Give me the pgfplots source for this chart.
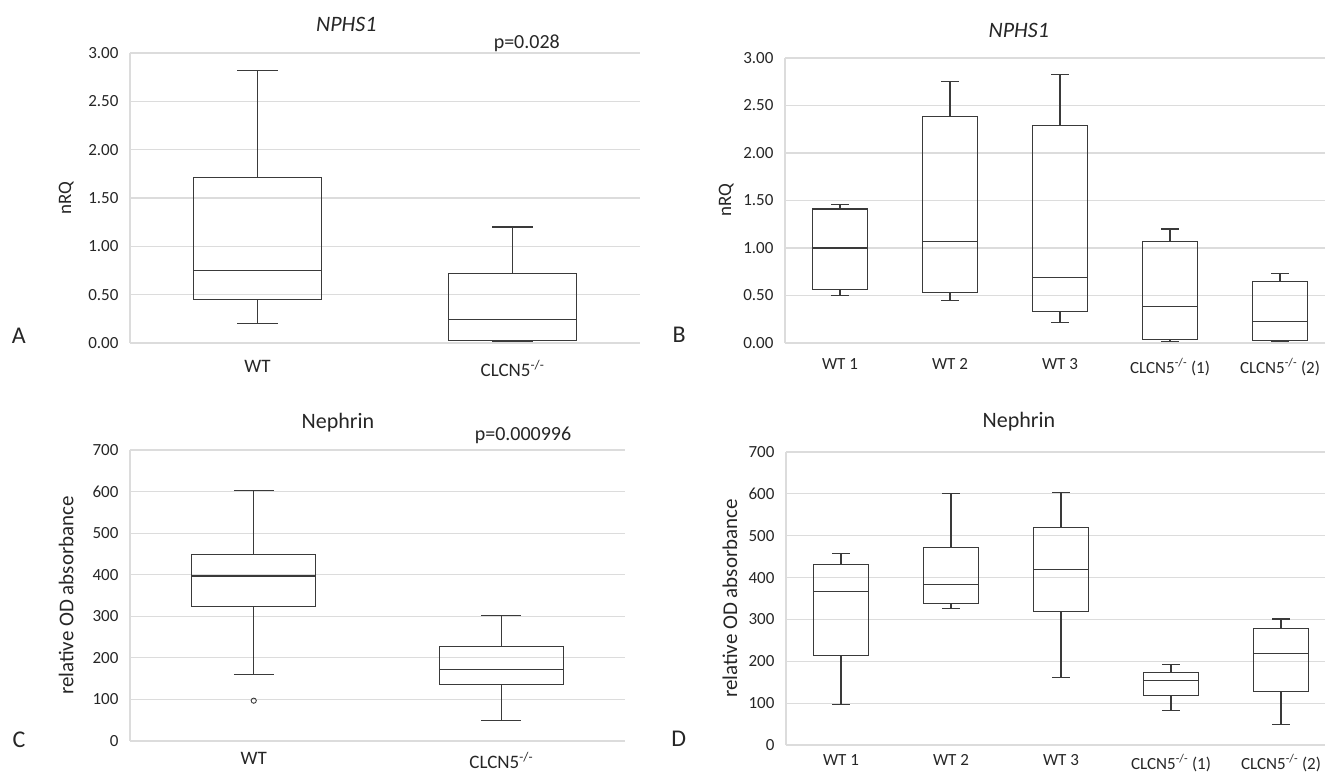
\documentclass[border=0pt]{standalone}
\usepackage{fontspec}
\setmainfont{Carlito}
\usepackage{pgfplots}
\pgfplotsset{compat=1.18}
\usepgfplotslibrary{statistics}

\definecolor{gridc}{HTML}{DCDCDC}
\definecolor{boxc}{HTML}{3A3A3A}
\definecolor{txtc}{HTML}{262626}

\pgfplotsset{
  panel/.style={
    scale only axis,
    anchor=south west,
    axis lines=left,
    axis line style={draw=gridc, line width=1.2pt, -},
    ymajorgrids,
    grid style={draw=gridc, line width=1.2pt},
    major tick length=0pt,
    xmin=0.5, ymin=0,
    clip=false,
    /pgf/number format/assume math mode=true,
    tick label style={text=txtc},
    yticklabel style={font=\fontsize{17}{20}\selectfont, xshift=-8pt},
    ylabel style={text=txtc},
    boxplot/draw direction=y,
    boxplot/box extend=0.5,
    boxplot/whisker extend=0.16,
  },
  bx/.style={draw=boxc, line width=1.1pt, mark=o, mark size=2.6pt,
    mark options={draw=boxc, line width=0.9pt}},
  nrq/.style={
    ymax=3, ytick distance=0.5,
    yticklabel style={/pgf/number format/.cd, fixed, fixed zerofill, precision=2},
    ylabel={nRQ},
    ylabel style={font=\fontsize{19}{22}\selectfont},
  },
  od/.style={
    ymax=700, ytick distance=100,
    ylabel={relative OD absorbance},
    ylabel style={font=\fontsize{21}{25}\selectfont},
  },
}

\begin{document}
\begin{tikzpicture}
\path[use as bounding box] (0pt,0pt) rectangle (1325pt,771pt);

% A
\begin{axis}[panel, nrq, at={(130pt,428pt)}, width=510pt, height=290pt, xmax=2.5,
  xtick={1,2}, xticklabels={WT, CLCN5\textsuperscript{-/-}},
  xticklabel style={font=\fontsize{19}{22}\selectfont, yshift=-14pt},
  ylabel style={at={(axis description cs:-0.125,0.5)}, anchor=center}]
\addplot[bx, boxplot prepared={draw position=1, lower whisker=0.20,
  lower quartile=0.453, median=0.753, upper quartile=1.709, upper whisker=2.818}] coordinates {};
\addplot[bx, boxplot prepared={draw position=2, lower whisker=0.012,
  lower quartile=0.028, median=0.244, upper quartile=0.715, upper whisker=1.20}] coordinates {};
\node[font=\fontsize{22}{26}\selectfont\itshape, text=txtc] at (rel axis cs:0.424,1.097) {NPHS1};
\node[font=\fontsize{20}{24}\selectfont, text=txtc] at (rel axis cs:0.778,1.034) {p=0.028};
\node[font=\fontsize{24}{28}\selectfont, text=txtc] at (rel axis cs:-0.218,0.024) {A};
\end{axis}

% B
\begin{axis}[panel, nrq, at={(785pt,428pt)}, width=540pt, height=285pt, xmax=5.409,
  xtick={1,...,5},
  xticklabels={WT 1, WT 2, WT 3, CLCN5\textsuperscript{-/-} (1), CLCN5\textsuperscript{-/-} (2)},
  xticklabel style={font=\fontsize{17}{20}\selectfont, yshift=-12pt},
  ylabel style={at={(axis description cs:-0.109,0.5)}, anchor=center}]
\addplot[bx, boxplot prepared={draw position=1, lower whisker=0.496,
  lower quartile=0.563, median=1.00, upper quartile=1.41, upper whisker=1.46}] coordinates {};
\addplot[bx, boxplot prepared={draw position=2, lower whisker=0.443,
  lower quartile=0.531, median=1.066, upper quartile=2.387, upper whisker=2.748}] coordinates {};
\addplot[bx, boxplot prepared={draw position=3, lower whisker=0.212,
  lower quartile=0.329, median=0.687, upper quartile=2.288, upper whisker=2.822}] coordinates {};
\addplot[bx, boxplot prepared={draw position=4, lower whisker=0.02,
  lower quartile=0.039, median=0.386, upper quartile=1.069, upper whisker=1.20}] coordinates {};
\addplot[bx, boxplot prepared={draw position=5, lower whisker=0.014,
  lower quartile=0.028, median=0.23, upper quartile=0.648, upper whisker=0.733}] coordinates {};
\node[font=\fontsize{22}{26}\selectfont\itshape, text=txtc] at (rel axis cs:0.433,1.098) {NPHS1};
\node[font=\fontsize{24}{28}\selectfont, text=txtc] at (rel axis cs:-0.196,0.028) {B};
\end{axis}

% C
\begin{axis}[panel, od, at={(130pt,30pt)}, width=495pt, height=291pt, xmax=2.5,
  xtick={1,2}, xticklabels={WT, CLCN5\textsuperscript{-/-}},
  xticklabel style={font=\fontsize{19}{22}\selectfont, yshift=-8pt},
  ylabel style={at={(axis description cs:-0.129,0.5)}, anchor=center}]
\addplot[bx, boxplot prepared={draw position=1, lower whisker=160,
  lower quartile=324, median=397, upper quartile=449, upper whisker=603}]
  table[row sep=\\, y index=0] {data\\ 97\\};
\addplot[bx, boxplot prepared={draw position=2, lower whisker=49,
  lower quartile=135, median=173, upper quartile=227, upper whisker=301}] coordinates {};
\node[font=\fontsize{22}{26}\selectfont, text=txtc] at (rel axis cs:0.42,1.093) {Nephrin};
\node[font=\fontsize{20}{24}\selectfont, text=txtc] at (rel axis cs:0.794,1.052) {p=0.000996};
\node[font=\fontsize{24}{28}\selectfont, text=txtc] at (rel axis cs:-0.224,0.003) {C};
\end{axis}

% D
\begin{axis}[panel, od, at={(786pt,26pt)}, width=539pt, height=293pt, xmax=5.4,
  xtick={1,...,5},
  xticklabels={WT 1, WT 2, WT 3, CLCN5\textsuperscript{-/-} (1), CLCN5\textsuperscript{-/-} (2)},
  xticklabel style={font=\fontsize{17}{20}\selectfont, yshift=-6pt},
  ylabel style={at={(axis description cs:-0.104,0.5)}, anchor=center}]
\addplot[bx, boxplot prepared={draw position=1, lower whisker=97,
  lower quartile=214, median=367, upper quartile=432, upper whisker=457}] coordinates {};
\addplot[bx, boxplot prepared={draw position=2, lower whisker=327,
  lower quartile=337, median=384, upper quartile=471, upper whisker=600}] coordinates {};
\addplot[bx, boxplot prepared={draw position=3, lower whisker=161,
  lower quartile=318, median=419, upper quartile=520, upper whisker=603}] coordinates {};
\addplot[bx, boxplot prepared={draw position=4, lower whisker=83,
  lower quartile=118, median=155, upper quartile=173, upper whisker=192}] coordinates {};
\addplot[bx, boxplot prepared={draw position=5, lower whisker=50,
  lower quartile=128, median=219, upper quartile=278, upper whisker=301}] coordinates {};
\node[font=\fontsize{22}{26}\selectfont, text=txtc] at (rel axis cs:0.432,1.102) {Nephrin};
\node[font=\fontsize{24}{28}\selectfont, text=txtc] at (rel axis cs:-0.199,0.02) {D};
\end{axis}
\end{tikzpicture}
\end{document}
